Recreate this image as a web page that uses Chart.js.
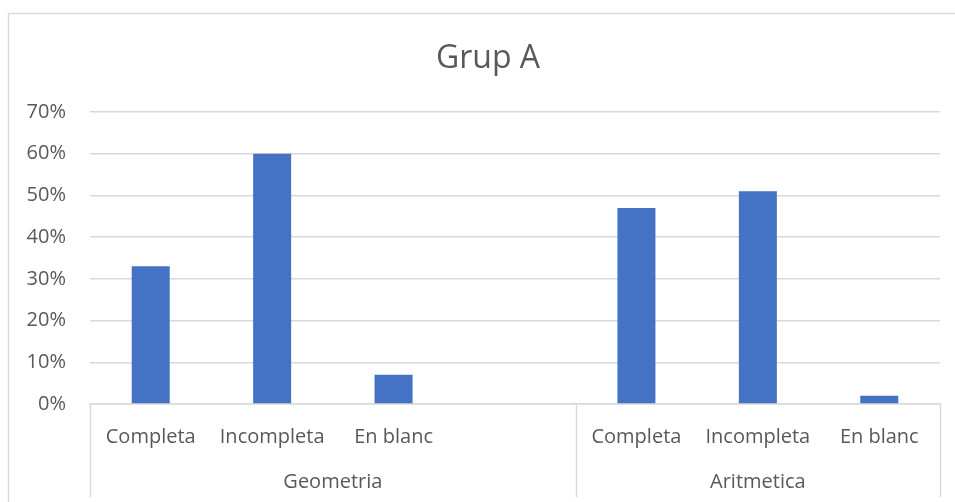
<!DOCTYPE html>
<html>
<head>
<meta charset="utf-8">
<script src="https://cdn.jsdelivr.net/npm/chart.js@4.4.1/dist/chart.umd.min.js"></script>
<style>
  html, body { margin: 0; padding: 0; background: #ffffff; }
  #wrap { width: 955px; height: 502px; position: relative; }
</style>
</head>
<body>
<div id="wrap"><canvas id="chart" width="955" height="502"></canvas></div>
<script>
// Answer shares (%) per subject; Geometria keeps one empty slot after its three answers
const chartTitle = 'Grup A';
const groupNames = ['Geometria', 'Aritmetica'];
const geometriaLabels = ['Completa', 'Incompleta', 'En blanc', ''];
const geometriaValues = [33, 60, 7, null];
const aritmeticaLabels = ['Completa', 'Incompleta', 'En blanc'];
const aritmeticaValues = [47, 51, 2];
const yTicks = [0, 10, 20, 30, 40, 50, 60, 70];

const groupLabels = [geometriaLabels, aritmeticaLabels];
const labels = geometriaLabels.concat(aritmeticaLabels);
const values = geometriaValues.concat(aritmeticaValues);

const TEXT = '#595959';
const LINE = '#d9d9d9';
const FONT = "'Open Sans', 'Noto Sans', sans-serif";

// Outer frame of the chart object, with the title centred on it
const framePlugin = {
  id: 'frame',
  beforeDraw(chart) {
    const ctx = chart.ctx;
    ctx.save();
    ctx.strokeStyle = LINE;
    ctx.lineWidth = 1.5;
    ctx.beginPath();
    ctx.moveTo(8.5, chart.height + 5);
    ctx.lineTo(8.5, 13.5);
    ctx.lineTo(chart.width + 5, 13.5);
    ctx.stroke();
    ctx.fillStyle = TEXT;
    ctx.font = '32px ' + FONT;
    ctx.textAlign = 'center';
    ctx.textBaseline = 'middle';
    ctx.fillText(chartTitle, 488, 59);
    ctx.restore();
  }
};

// Two-level category axis: group dividers and group names under the answer labels
const groupAxisPlugin = {
  id: 'groupAxis',
  afterDraw(chart) {
    const x = chart.scales.x;
    const area = chart.chartArea;
    const ctx = chart.ctx;
    const step = x.getPixelForValue(1) - x.getPixelForValue(0);
    const bottom = 497;
    let start = 0;
    const edges = [x.getPixelForValue(0) - step / 2];
    const centers = [];
    groupLabels.forEach(g => {
      const left = x.getPixelForValue(start) - step / 2;
      const right = x.getPixelForValue(start + g.length - 1) + step / 2;
      edges.push(right);
      centers.push((left + right) / 2);
      start += g.length;
    });
    ctx.save();
    ctx.strokeStyle = LINE;
    ctx.lineWidth = 1.5;
    edges.forEach(px => {
      const p = Math.round(px) + 0.5;
      ctx.beginPath();
      ctx.moveTo(p, area.bottom);
      ctx.lineTo(p, bottom);
      ctx.stroke();
    });
    ctx.fillStyle = TEXT;
    ctx.font = '20px ' + FONT;
    ctx.textAlign = 'center';
    ctx.textBaseline = 'middle';
    groupNames.forEach((name, i) => ctx.fillText(name, centers[i], 482));
    ctx.restore();
  }
};

new Chart(document.getElementById('chart'), {
  type: 'bar',
  data: {
    labels: labels,
    datasets: [{
      data: values,
      backgroundColor: '#4472C4',
      borderWidth: 0,
      categoryPercentage: 1,
      barPercentage: 0.313
    }]
  },
  options: {
    responsive: false,
    animation: false,
    devicePixelRatio: 1,
    layout: { padding: { left: 0, right: 15, top: 112, bottom: 0 } },
    plugins: {
      legend: { display: false },
      tooltip: { enabled: false },
      title: { display: false }
    },
    scales: {
      x: {
        grid: { display: false, drawTicks: false },
        border: { display: true, color: LINE, width: 1.5 },
        ticks: {
          color: TEXT,
          font: { family: FONT, size: 20 },
          padding: 21,
          maxRotation: 0,
          autoSkip: false
        },
        afterFit(scale) { scale.height = 98; }
      },
      y: {
        min: 0,
        max: 70,
        afterBuildTicks(scale) { scale.ticks = yTicks.map(v => ({ value: v })); },
        grid: { color: LINE, lineWidth: 1.5, drawTicks: false },
        border: { display: false },
        ticks: {
          color: TEXT,
          font: { family: FONT, size: 20 },
          padding: 24,
          callback: v => v + '%'
        },
        afterFit(scale) { scale.width = 90; }
      }
    }
  },
  plugins: [framePlugin, groupAxisPlugin]
});
</script>
</body>
</html>
